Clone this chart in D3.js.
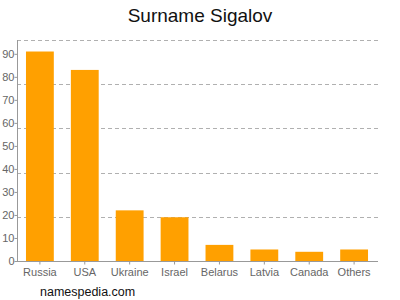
<!DOCTYPE html>
<html>
<head>
<meta charset="utf-8">
<script src="https://cdn.jsdelivr.net/npm/d3@7"></script>
<style>
  body { margin: 0; background: #fff; }
  svg { font-family: "Liberation Sans", Arial, sans-serif; }
</style>
</head>
<body>
<svg id="chart" width="400" height="300"></svg>
<script>
var countries = ['Russia', 'USA', 'Ukraine', 'Israel', 'Belarus', 'Latvia', 'Canada', 'Others'];
var counts = [91, 83, 22, 19, 7, 5, 4, 5];
var yTicks = [0, 10, 20, 30, 40, 50, 60, 70, 80, 90];
var yMax = 96;

var svg = d3.select('#chart');
var plotL = 17, plotR = 377, plotT = 40, plotB = 261;

var x = d3.scaleBand().domain(countries).range([plotL, plotR])
    .paddingInner(0.38).paddingOuter(0.2);
var y = d3.scaleLinear().domain([0, yMax]).range([plotB, plotT]);

// dashed grid, 5 even steps up to max
var grid = d3.range(1, 6).map(function (i) { return yMax * i / 5; });
svg.append('g').selectAll('line').data(grid).enter().append('line')
    .attr('x1', plotL).attr('x2', plotR + 1)
    .attr('y1', function (d) { return Math.round(y(d)) + 0.5; })
    .attr('y2', function (d) { return Math.round(y(d)) + 0.5; })
    .attr('stroke', '#b0b0b0').attr('stroke-dasharray', '4,3');

svg.append('g').selectAll('rect').data(counts).enter().append('rect')
    .attr('x', function (d, i) { return x(countries[i]); })
    .attr('width', x.bandwidth())
    .attr('y', function (d) { return y(d); })
    .attr('height', function (d) { return plotB - y(d); })
    .attr('fill', '#ffa000');

var yAxis = svg.append('g').attr('transform', 'translate(' + (plotL + 0.5) + ',0)')
    .call(d3.axisLeft(y).tickValues(yTicks).tickSize(3).tickSizeOuter(0).tickFormat(d3.format('d')));
var xAxis = svg.append('g').attr('transform', 'translate(0,' + (plotB + 0.5) + ')')
    .call(d3.axisBottom(x).tickSize(3).tickSizeOuter(0));

[yAxis, xAxis].forEach(function (a) {
    a.select('.domain').attr('stroke', '#999');
    a.selectAll('.tick line').attr('stroke', '#999');
    a.selectAll('.tick text').attr('fill', '#666').style('font-size', '11px')
        .style('font-family', '"Liberation Sans", Arial, sans-serif');
});
yAxis.select('.domain').attr('d', 'M0,' + plotT + 'V' + plotB);
yAxis.selectAll('.tick text').attr('x', -3);
xAxis.select('.domain').attr('d', 'M' + plotL + ',0H' + (plotR + 1));
xAxis.selectAll('.tick text').attr('y', 7);

svg.append('text').attr('x', 200).attr('y', 22).attr('text-anchor', 'middle')
    .style('font-size', '19px').attr('fill', '#111').text('Surname Sigalov');
svg.append('text').attr('x', 40).attr('y', 296)
    .style('font-size', '12.5px').attr('fill', '#111').text('namespedia.com');
</script>
</body>
</html>
